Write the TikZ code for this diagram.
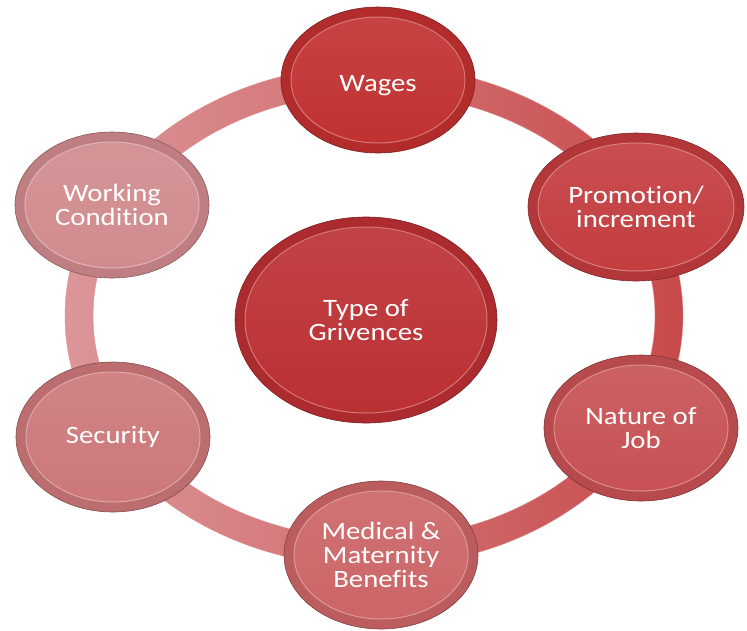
\documentclass[tikz,border=0pt]{standalone}
\usepackage{fontspec}
\setmainfont[FakeStretch=1.15, Ligatures=NoCommon]{Carlito}
\usetikzlibrary{shapes.geometric,calc}
\definecolor{hubred}{HTML}{BB2F32}
\definecolor{wagesred}{HTML}{C0302F}
\definecolor{promored}{HTML}{C33C3E}
\definecolor{naturered}{HTML}{C75053}
\definecolor{medicalred}{HTML}{CB6466}
\definecolor{securityred}{HTML}{CC7779}
\definecolor{workingred}{HTML}{D08A8D}
\definecolor{ringleft}{HTML}{DC969A}
\definecolor{ringright}{HTML}{C84A4A}
\tikzset{
  bead/.style={ellipse, fill=#1!92!black, draw=#1!65!black, line width=0.6pt,
    minimum width=194pt, minimum height=146pt, inner sep=0pt,
    text=white, align=center, font=\fontsize{25}{24}\selectfont,
    path picture={\shade[top color=#1!90!white, bottom color=#1, draw=#1!65!white, line width=1pt]
      let \p1=(path picture bounding box.north east), \p2=(path picture bounding box.center)
      in (\p2) ellipse [x radius={\x1-\x2-10pt}, y radius={\y1-\y2-10pt}];}},
}
\begin{document}
\begin{tikzpicture}[x=1pt, y=-1pt]
\useasboundingbox (0, 0) rectangle (747, 630);
\coordinate (ringc) at (374, 316);
\shade [left color=ringleft, right color=ringright, even odd rule, draw=ringright!60!white]
  (ringc) ellipse [x radius=309pt, y radius=251pt]
  (ringc) ellipse [x radius=281pt, y radius=223pt];
\node [bead=hubred, minimum width=262pt, minimum height=206pt] (hub) at (366, 320) {Type of\\Grivences};
\node [bead=wagesred] (wages) at (378, 80) {\raisebox{-6pt}[\height][\depth]{Wages}};
\node [bead=promored, minimum width=216pt, minimum height=148pt] (promo) at (636, 207) {Promotion/\\increment};
\node [bead=naturered] (nature) at (641, 428) {Nature of\\Job};
\node [bead=medicalred, minimum height=148pt] (medical) at (381, 555) {Medical \&\\Maternity\\Benefits};
\node [bead=securityred, minimum height=150pt] (security) at (113, 437) {Security};
\node [bead=workingred] (working) at (112, 205) {Working\\Condition};
\end{tikzpicture}
\end{document}
